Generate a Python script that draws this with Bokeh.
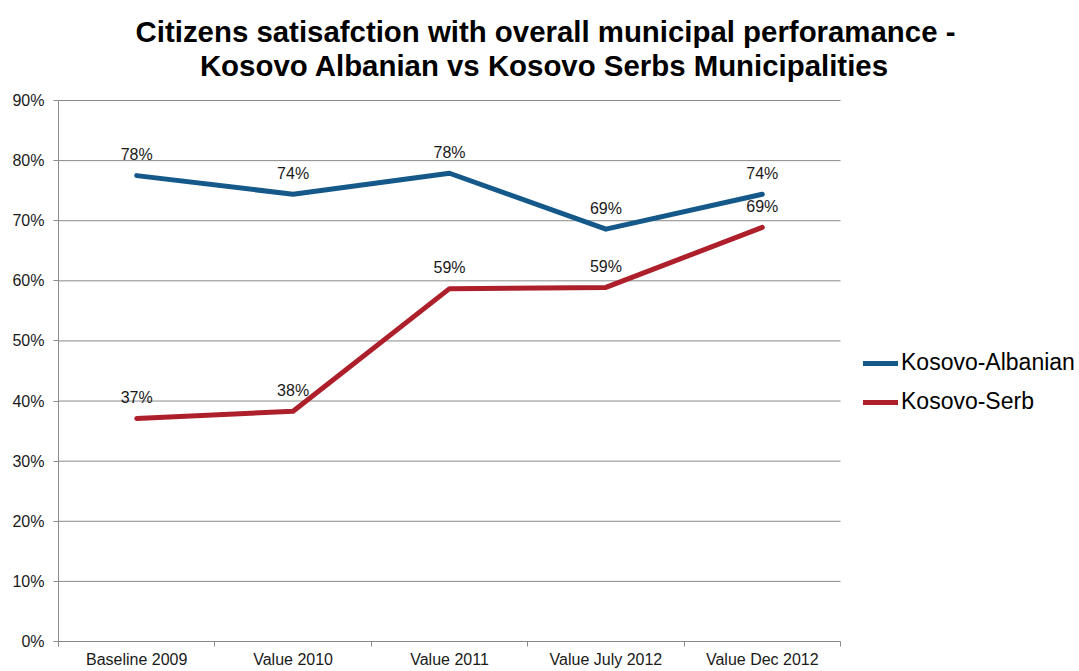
from bokeh.plotting import figure
from bokeh.models import (ColumnDataSource, FixedTicker, Range1d, Legend, LegendItem, Label)
from bokeh.core.properties import value
from bokeh.embed import file_html
from bokeh.resources import INLINE

categories = ["Baseline 2009", "Value 2010", "Value 2011", "Value July 2012", "Value Dec 2012"]
albanian = [77.5, 74.4, 77.9, 68.6, 74.4]
serb = [37.1, 38.3, 58.7, 58.9, 68.9]
series_names = ["Kosovo-Albanian", "Kosovo-Serb"]
y_ticks = [0, 10, 20, 30, 40, 50, 60, 70, 80, 90]
title_lines = ["Citizens satisafction with overall municipal perforamance -",
               "Kosovo Albanian vs Kosovo Serbs Municipalities"]

BLUE = "#14598a"
RED = "#ad1f2b"
GRID = "#8a8a8a"
FONT = "Liberation Sans"
TXT = "#1a1a1a"

# layout (pixels): full figure, plot area spans x 58..840, y 100..641
W, H = 1079, 671
LEFT, BOTTOM_PAD = 58, 30
PLOT_RIGHT, PLOT_TOP = 840, 100
n = len(categories)
y_max = max(y_ticks)
frame_w = W - LEFT
frame_h = H - BOTTOM_PAD
x_end = n * frame_w / (PLOT_RIGHT - LEFT)
y_end = y_max * frame_h / (frame_h - PLOT_TOP)

xs = [i + 0.5 for i in range(n)]

p = figure(width=W, height=H, output_backend="svg", toolbar_location=None,
           x_range=Range1d(0, x_end), y_range=Range1d(0, y_end),
           min_border_left=LEFT, min_border_right=0, min_border_top=0,
           min_border_bottom=BOTTOM_PAD)
p.title = None
p.outline_line_color = None
p.background_fill_color = "white"
p.border_fill_color = "white"
p.xgrid.grid_line_color = None
p.ygrid.grid_line_color = None

# X axis
p.xaxis.bounds = (0, n)
p.xaxis.ticker = FixedTicker(ticks=xs, minor_ticks=list(range(n + 1)))
p.xaxis.major_label_overrides = {x: c for x, c in zip(xs, categories)}
p.xaxis.major_tick_line_color = None
p.xaxis.minor_tick_line_color = GRID
p.xaxis.minor_tick_out = 5
p.xaxis.minor_tick_in = 0
p.xaxis.axis_line_color = GRID
p.xaxis.major_label_text_font = FONT
p.xaxis.major_label_text_font_size = "16px"
p.xaxis.major_label_text_color = TXT
p.xaxis.major_label_standoff = 3

# Y axis
p.yaxis.bounds = (0, y_max)
p.yaxis.ticker = FixedTicker(ticks=y_ticks)
p.yaxis.major_label_overrides = {v: f"{v}%" for v in y_ticks}
p.yaxis.major_tick_line_color = GRID
p.yaxis.major_tick_out = 5
p.yaxis.major_tick_in = 0
p.yaxis.minor_tick_line_color = None
p.yaxis.axis_line_color = GRID
p.yaxis.major_label_text_font = FONT
p.yaxis.major_label_text_font_size = "16px"
p.yaxis.major_label_text_color = TXT
p.yaxis.major_label_standoff = 9

# horizontal gridlines across the category span
grid_src = ColumnDataSource(dict(y=y_ticks, x0=[0] * len(y_ticks), x1=[n] * len(y_ticks)))
p.segment(x0="x0", x1="x1", y0="y", y1="y", source=grid_src, line_color=GRID, line_width=1)

src = ColumnDataSource(dict(
    x=xs, alb=albanian, srb=serb,
    alb_lbl=[f"{round(v)}%" for v in albanian],
    srb_lbl=[f"{round(v)}%" for v in serb],
))

r1 = p.line("x", "alb", source=src, line_color=BLUE, line_width=5, line_cap="round", line_join="round")
r2 = p.line("x", "srb", source=src, line_color=RED, line_width=5, line_cap="round", line_join="round")

for col, lbl in (("alb", "alb_lbl"), ("srb", "srb_lbl")):
    p.text("x", col, text=lbl, source=src, text_font=value(FONT), text_font_size="16px",
           text_color=TXT, text_align="center", text_baseline="middle", y_offset=-21)

# Title lines (screen units relative to the frame's bottom-left)
for txt, sx, sy in ((title_lines[0], 545 - LEFT, frame_h - 31),
                    (title_lines[1], 544 - LEFT, frame_h - 65)):
    p.add_layout(Label(x=sx, y=sy, x_units="screen", y_units="screen", text=txt,
                       text_font=FONT, text_font_size="29.4px", text_font_style="bold",
                       text_color="black", text_align="center", text_baseline="alphabetic"))

legend = Legend(items=[LegendItem(label=series_names[0], renderers=[r1]),
                       LegendItem(label=series_names[1], renderers=[r2])],
                location=(805, 226), padding=0, margin=0, spacing=12,
                glyph_width=35, glyph_height=22, label_standoff=3,
                label_text_font=FONT, label_text_font_size="23px",
                label_text_color="black", border_line_color=None,
                background_fill_alpha=0)
p.add_layout(legend, "center")

open("out.html", "w").write(file_html(p, INLINE))
